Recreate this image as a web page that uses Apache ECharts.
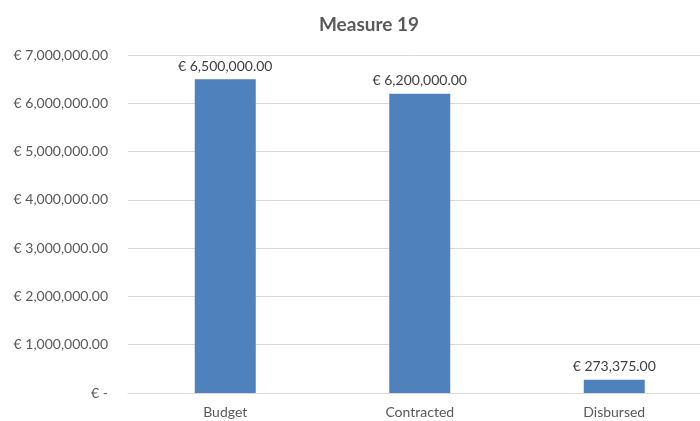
<!DOCTYPE html>
<html>
<head>
<meta charset="utf-8">
<script src="https://cdn.jsdelivr.net/npm/echarts@6/dist/echarts.min.js"></script>
<style>
  html, body { margin: 0; padding: 0; background: #fff; }
  #chart { width: 700px; height: 421px; }
</style>
</head>
<body>
<div id="chart"></div>
<script>
var categories = ['Budget', 'Contracted', 'Disbursed'];
var amounts = [6500000, 6200000, 273375];
var yMax = 7000000;
var yStep = 1000000;

function euro(v) {
  if (v === 0) return '€ -';
  return '€ ' + v.toLocaleString('en-US', { minimumFractionDigits: 2, maximumFractionDigits: 2 });
}

var font = 'Lato, "Open Sans", sans-serif';
var chart = echarts.init(document.getElementById('chart'), null, { renderer: 'canvas' });
chart.setOption({
  animation: false,
  title: {
    text: 'Measure 19',
    left: 364,
    top: 10,
    textAlign: 'center',
    textStyle: { color: '#595959', fontSize: 19, fontWeight: 'bold', fontFamily: font }
  },
  // the plot runs a little past the right edge, as in the cropped original
  grid: { left: 128, width: 583.5, top: 55, height: 338, containLabel: false, outerBoundsMode: 'none' },
  xAxis: {
    type: 'category',
    data: categories,
    axisLine: { show: true, lineStyle: { color: '#d9d9d9', width: 1 } },
    axisTick: { show: false },
    axisLabel: { color: '#595959', fontSize: 14, fontFamily: font, margin: 12 }
  },
  yAxis: {
    type: 'value',
    min: 0,
    max: yMax,
    interval: yStep,
    axisLine: { show: false },
    axisTick: { show: false },
    splitLine: { lineStyle: { color: '#d9d9d9', width: 1 } },
    axisLabel: { color: '#595959', fontSize: 14, fontFamily: font, margin: 20, formatter: euro }
  },
  series: [{
    type: 'bar',
    data: amounts,
    barWidth: 61,
    itemStyle: { color: '#4f81bd' },
    label: {
      show: true,
      position: 'top',
      distance: 6,
      color: '#404040',
      fontSize: 14,
      fontFamily: font,
      formatter: function(p) { return euro(p.value); }
    }
  }]
});
</script>
</body>
</html>
